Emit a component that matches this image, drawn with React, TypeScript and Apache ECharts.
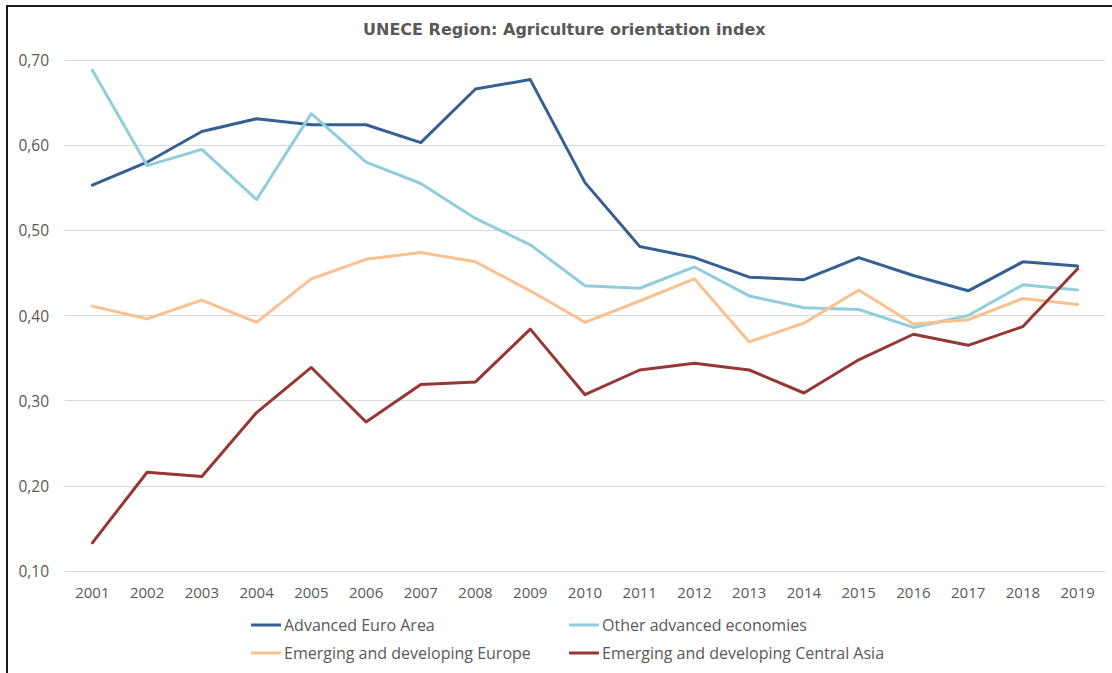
import React, { useEffect, useRef } from "react";
import * as echarts from "echarts";

const years = [
  "2001", "2002", "2003", "2004", "2005", "2006", "2007", "2008", "2009", "2010",
  "2011", "2012", "2013", "2014", "2015", "2016", "2017", "2018", "2019",
];

const advancedEuroArea = [
  0.553, 0.58, 0.616, 0.631, 0.624, 0.624, 0.603, 0.666, 0.677, 0.556,
  0.481, 0.468, 0.445, 0.442, 0.468, 0.447, 0.429, 0.463, 0.458,
];
const otherAdvanced = [
  0.688, 0.576, 0.595, 0.536, 0.637, 0.58, 0.555, 0.514, 0.483, 0.435,
  0.432, 0.457, 0.423, 0.409, 0.407, 0.386, 0.4, 0.436, 0.43,
];
const emergingEurope = [
  0.411, 0.396, 0.418, 0.392, 0.443, 0.466, 0.474, 0.463, 0.429, 0.392,
  0.417, 0.443, 0.369, 0.391, 0.43, 0.39, 0.395, 0.42, 0.413,
];
const emergingCentralAsia = [
  0.133, 0.216, 0.211, 0.286, 0.339, 0.275, 0.319, 0.322, 0.384, 0.307,
  0.336, 0.344, 0.336, 0.309, 0.348, 0.378, 0.365, 0.387, 0.455,
];

const seriesNames = [
  "Advanced Euro Area",
  "Other advanced economies",
  "Emerging and developing Europe",
  "Emerging and developing Central Asia",
];
const seriesColors = ["#366092", "#92CDDC", "#FAC090", "#953735"];
const seriesData = [advancedEuroArea, otherAdvanced, emergingEurope, emergingCentralAsia];

const FONT = "'Open Sans', 'Noto Sans', sans-serif";
const TITLE_FONT = "'DejaVu Sans', 'Open Sans', sans-serif";
const GREY = "#595959";

export default function App() {
  const ref = useRef<HTMLDivElement>(null);

  useEffect(() => {
    if (!ref.current) return;
    const chart = echarts.init(ref.current, undefined, { renderer: "svg" });

    // one legend per entry, laid out as a 2x2 block under the plot
    const legendPos = [
      { left: 246, top: 612 },
      { left: 564, top: 612 },
      { left: 246, top: 640 },
      { left: 564, top: 640 },
    ];

    chart.setOption({
      animation: false,
      backgroundColor: "#ffffff",
      textStyle: { fontFamily: FONT },
      title: {
        text: "UNECE Region: Agriculture orientation index",
        left: 358,
        top: 16,
        textStyle: { fontFamily: TITLE_FONT, fontSize: 16, fontWeight: "bold", color: GREY },
      },
      legend: seriesNames.map((name, i) => ({
        data: [name],
        left: legendPos[i].left,
        top: legendPos[i].top,
        icon: "rect",
        itemWidth: 30,
        itemHeight: 3,
        itemGap: 0,
        selectedMode: false,
        textStyle: { fontFamily: FONT, fontSize: 16, color: GREY, padding: [0, 0, 0, -2] },
      })),
      grid: { left: 65, right: 7, top: 60, bottom: 102, containLabel: false },
      xAxis: {
        type: "category",
        data: years,
        boundaryGap: true,
        axisLine: { show: true, lineStyle: { color: "#d9d9d9", width: 1 } },
        axisTick: { show: false },
        axisLabel: { color: GREY, fontSize: 15, fontFamily: FONT, margin: 13 },
      },
      yAxis: {
        type: "value",
        min: 0.1,
        max: 0.7,
        interval: 0.1,
        axisLine: { show: false },
        axisTick: { show: false },
        splitLine: { lineStyle: { color: "#d9d9d9", width: 1 } },
        axisLabel: {
          color: GREY,
          fontSize: 15.5,
          fontFamily: FONT,
          margin: 16,
          formatter: (v: number) => v.toFixed(2).replace(".", ","),
        },
      },
      series: seriesNames.map((name, i) => ({
        name,
        type: "line",
        data: seriesData[i],
        symbol: "none",
        color: seriesColors[i],
        lineStyle: { width: 3, color: seriesColors[i], cap: "round", join: "round" },
      })),
      graphic: [
        {
          type: "rect",
          shape: { x: 7, y: 6, width: 1300, height: 900 },
          style: { fill: "none", stroke: "#1a1a1a", lineWidth: 2 },
          silent: true,
        },
      ],
    });

    return () => chart.dispose();
  }, []);

  return (
    <div
      ref={ref}
      style={{ position: "fixed", left: 0, top: 0, width: 1112, height: 673 }}
    />
  );
}
